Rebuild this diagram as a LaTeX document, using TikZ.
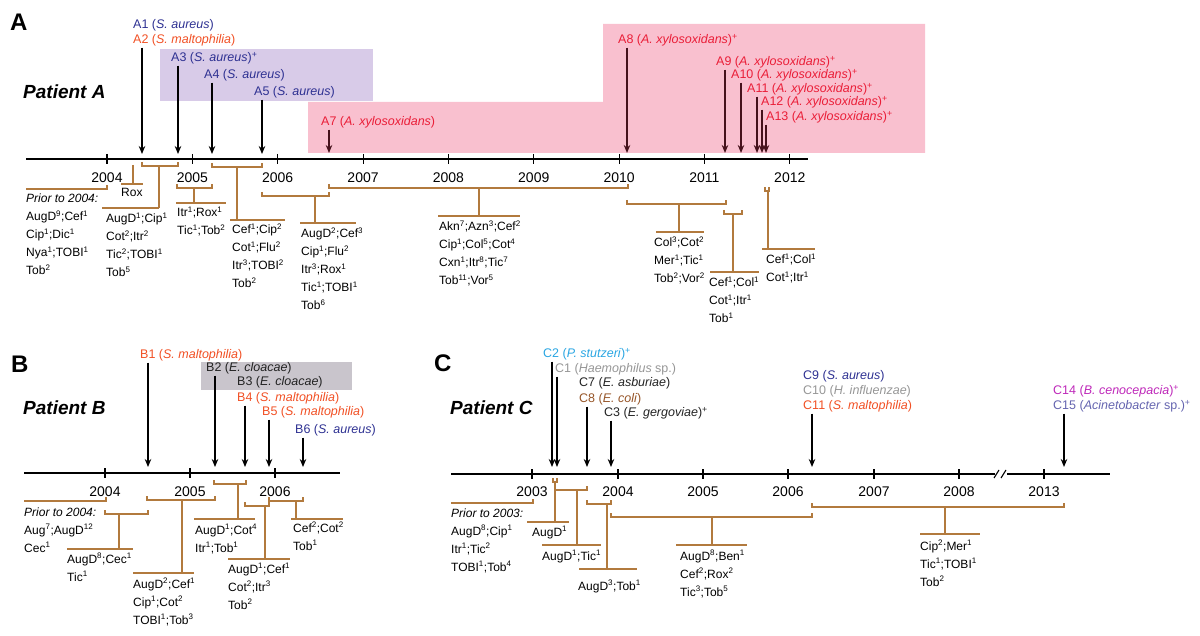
\documentclass[tikz,border=0pt]{standalone}
\usepackage{fontspec}
\setmainfont{Liberation Sans}
\usetikzlibrary{arrows.meta}

\definecolor{trtbrown}{RGB}{178,122,62}
\definecolor{isoblue}{RGB}{46,49,146}
\definecolor{isoorange}{RGB}{241,80,36}
\definecolor{isored}{RGB}{234,30,56}
\definecolor{isodark}{RGB}{35,35,35}
\definecolor{isogray}{RGB}{150,150,150}
\definecolor{isosky}{RGB}{41,165,226}
\definecolor{isobrown}{RGB}{150,85,40}
\definecolor{isomagenta}{RGB}{190,40,185}
\definecolor{isoviolet}{RGB}{100,100,175}
\definecolor{arrowdark}{RGB}{70,18,28}
\definecolor{boxpurple}{RGB}{216,203,232}
\definecolor{boxpink}{RGB}{249,192,207}
\definecolor{boxgray}{RGB}{201,197,204}

\newcommand{\sups}[1]{\textsuperscript{#1}}
\newcommand{\druglist}[1]{\begin{tabular}[t]{@{}l@{}}#1\end{tabular}}

\tikzset{
  axis/.style={line width=1.5pt},
  yeartick/.style={line width=1.1pt},
  iso/.style={->, line width=1.5pt},
  trt/.style={draw=trtbrown, line width=2pt},
  isolabel/.style={anchor=west, inner sep=0pt, font=\fontsize{12.5}{14}\selectfont},
  drugs/.style={anchor=base west, inner sep=0pt, font=\fontsize{12}{18}\selectfont},
  year/.style={inner sep=0pt, font=\fontsize{14}{16}\selectfont},
  patient/.style={anchor=west, inner sep=0pt, font=\fontsize{19}{22}\selectfont\bfseries\itshape},
  panel/.style={anchor=west, inner sep=0pt, font=\fontsize{24}{28}\selectfont\bfseries}
}

\begin{document}
\begin{tikzpicture}[x=1pt, y=-1pt, >={Stealth[length=8pt,width=6.5pt]}]
\useasboundingbox (0,0) rectangle (1200,636);

% ---------------- Patient A ----------------
\fill [boxpurple] (160,49) rectangle (373,101);
\fill [boxpink] (308,102) -- (603,102) -- (603,24) -- (925,24) -- (925,153) -- (308,153) -- cycle;

\node [panel] (panA) at (10,22) {A};
\node [patient] (patA) at (23,92) {Patient A};

\draw [axis] (26,159) -- (808,159);
\foreach \yr [count=\i from 0] in {2004,...,2012}
  {
    \draw [yeartick] ({107+85.35*\i},154) -- ({107+85.35*\i},164);
    \node [year] (yA\yr) at ({107+85.35*\i},178) {\yr};
  }

\node [isolabel, text=isoblue] (A1) at (133,25) {A1 (\textit{S. aureus})};
\node [isolabel, text=isoorange] (A2) at (133,40) {A2 (\textit{S. maltophilia})};
\node [isolabel, text=isoblue] (A3) at (171,58) {A3 (\textit{S. aureus})\sups{+}};
\node [isolabel, text=isoblue] (A4) at (204,75) {A4 (\textit{S. aureus})};
\node [isolabel, text=isoblue] (A5) at (254,92) {A5 (\textit{S. aureus})};
\node [isolabel, text=isored] (A7) at (321,122) {A7 (\textit{A. xylosoxidans})};
\node [isolabel, text=isored] (A8) at (618,40) {A8 (\textit{A. xylosoxidans})\sups{+}};
\node [isolabel, text=isored] (A9) at (716,62) {A9 (\textit{A. xylosoxidans})\sups{+}};
\node [isolabel, text=isored] (A10) at (731,75) {A10 (\textit{A. xylosoxidans})\sups{+}};
\node [isolabel, text=isored] (A11) at (747,89) {A11 (\textit{A. xylosoxidans})\sups{+}};
\node [isolabel, text=isored] (A12) at (761,102) {A12 (\textit{A. xylosoxidans})\sups{+}};
\node [isolabel, text=isored] (A13) at (766,117) {A13 (\textit{A. xylosoxidans})\sups{+}};

\coordinate (tA1) at (142,154);
\coordinate (tA3) at (178,154);
\coordinate (tA4) at (212,154);
\coordinate (tA5) at (262,154);
\coordinate (tA7) at (329,153);
\coordinate (tA8) at (627,153);
\coordinate (tA9) at (725,153);
\coordinate (tA10) at (741,153);
\coordinate (tA11) at (757,153);
\coordinate (tA12) at (762,153);
\coordinate (tA13) at (766,153);
\draw [iso] ([yshift=-1.5pt]A2.south -| tA1) -- (tA1);
\draw [iso] ([yshift=-1.5pt]A3.south -| tA3) -- (tA3);
\draw [iso] ([yshift=-1.5pt]A4.south -| tA4) -- (tA4);
\draw [iso] ([yshift=-1.5pt]A5.south -| tA5) -- (tA5);
\draw [iso, arrowdark] ([yshift=-1.5pt]A7.south -| tA7) -- (tA7);
\draw [iso, arrowdark] ([yshift=-1.5pt]A8.south -| tA8) -- (tA8);
\draw [iso, arrowdark] ([yshift=-1.5pt]A9.south -| tA9) -- (tA9);
\draw [iso, arrowdark] ([yshift=-1.5pt]A10.south -| tA10) -- (tA10);
\draw [iso, arrowdark] ([yshift=-1.5pt]A11.south -| tA11) -- (tA11);
\draw [iso, arrowdark] ([yshift=-1.5pt]A12.south -| tA12) -- (tA12);
\draw [iso, arrowdark] ([yshift=-1.5pt]A13.south -| tA13) -- (tA13);

% treatment periods A
\draw [trt] (26,189) -- (107,189) -- (107,185);
\draw [trt] (133,165) -- (133,184) (121,184) -- (143,184);
\draw [trt] (142,162) |- (178,166) -- (178,162) (159,166) -- (159,208) (102,208) -- (159,208);
\draw [trt] (177,184) |- (212,188) -- (212,184) (194,188) -- (194,203) (176,203) -- (226,203);
\draw [trt] (212,163) |- (262,167) -- (262,163) (237,167) -- (237,220) (230,220) -- (285,220);
\draw [trt] (262,192) |- (329,196) -- (329,192) (315,196) -- (315,223) (300,223) -- (356,223);
\draw [trt] (329,184) |- (628,188) -- (628,184) (479,188) -- (479,216) (438,216) -- (520,216);
\draw [trt] (627,200) |- (726,204) -- (726,200) (679,204) -- (679,232) (656,232) -- (704,232);
\draw [trt] (724,210) |- (742,214) -- (742,210) (733,214) -- (733,272) (710,272) -- (759,272);
\draw [trt] (765,187) |- (769,191) -- (769,187) (768,191) -- (768,249) (762,249) -- (815,249);

\node [drugs] (rxA1) at (26,203) {\druglist{\textit{Prior to 2004:}\\ AugD\sups{9};Cef\sups{1}\\ Cip\sups{1};Dic\sups{1}\\ Nya\sups{1};TOBI\sups{1}\\ Tob\sups{2}}};
\node [drugs] (rxA2) at (121,197) {Rox};
\node [drugs] (rxA3) at (106,223) {\druglist{AugD\sups{1};Cip\sups{1}\\ Cot\sups{2};Itr\sups{2}\\ Tic\sups{2};TOBI\sups{1}\\ Tob\sups{5}}};
\node [drugs] (rxA4) at (177,217) {\druglist{Itr\sups{1};Rox\sups{1}\\ Tic\sups{1};Tob\sups{2}}};
\node [drugs] (rxA5) at (232,234) {\druglist{Cef\sups{1};Cip\sups{2}\\ Cot\sups{1};Flu\sups{2}\\ Itr\sups{3};TOBI\sups{2}\\ Tob\sups{2}}};
\node [drugs] (rxA6) at (301,238) {\druglist{AugD\sups{2};Cef\sups{3}\\ Cip\sups{1};Flu\sups{2}\\ Itr\sups{3};Rox\sups{1}\\ Tic\sups{1};TOBI\sups{1}\\ Tob\sups{6}}};
\node [drugs] (rxA7) at (439,231) {\druglist{Akn\sups{7};Azn\sups{3};Cef\sups{2}\\ Cip\sups{1};Col\sups{5};Cot\sups{4}\\ Cxn\sups{1};Itr\sups{8};Tic\sups{7}\\ Tob\sups{11};Vor\sups{5}}};
\node [drugs] (rxA8) at (654,247) {\druglist{Col\sups{3};Cot\sups{2}\\ Mer\sups{1};Tic\sups{1}\\ Tob\sups{2};Vor\sups{2}}};
\node [drugs] (rxA9) at (709,287) {\druglist{Cef\sups{1};Col\sups{1}\\ Cot\sups{1};Itr\sups{1}\\ Tob\sups{1}}};
\node [drugs] (rxA10) at (766,264) {\druglist{Cef\sups{1};Col\sups{1}\\ Cot\sups{1};Itr\sups{1}}};

% ---------------- Patient B ----------------
\fill [boxgray] (201,362) rectangle (352,390);

\node [panel] (panB) at (11,364) {B};
\node [patient] (patB) at (23,408) {Patient B};

\draw [axis] (24,473) -- (340,473);
\foreach \xp/\yr in {105/2004, 190/2005, 275/2006}
  {
    \draw [yeartick] (\xp,468) -- (\xp,478);
    \node [year] (yB\yr) at (\xp,492) {\yr};
  }

\node [isolabel, text=isoorange] (B1) at (140,355) {B1 (\textit{S. maltophilia})};
\node [isolabel, text=isodark] (B2) at (206,368) {B2 (\textit{E. cloacae})};
\node [isolabel, text=isodark] (B3) at (237,382) {B3 (\textit{E. cloacae})};
\node [isolabel, text=isoorange] (B4) at (237,398) {B4 (\textit{S. maltophilia})};
\node [isolabel, text=isoorange] (B5) at (262,412) {B5 (\textit{S. maltophilia})};
\node [isolabel, text=isoblue] (B6) at (295,430) {B6 (\textit{S. aureus})};

\coordinate (tB1) at (148,467);
\coordinate (tB2) at (215,467);
\coordinate (tB4) at (245,467);
\coordinate (tB5) at (269,467);
\coordinate (tB6) at (303,467);
\draw [iso] ([yshift=-1.5pt]B1.south -| tB1) -- (tB1);
\draw [iso] ([yshift=-1.5pt]B2.south -| tB2) -- (tB2);
\draw [iso] ([yshift=-1.5pt]B4.south -| tB4) -- (tB4);
\draw [iso] ([yshift=-1.5pt]B5.south -| tB5) -- (tB5);
\draw [iso] ([yshift=-1.5pt]B6.south -| tB6) -- (tB6);

% treatment periods B
\draw [trt] (24,501) -- (106,501) -- (106,497);
\draw [trt] (105,510) |- (148,514) -- (148,510) (119,514) -- (119,549) (67,549) -- (133,549);
\draw [trt] (147,496) |- (215,500) -- (215,496) (182,500) -- (182,573) (133,573) -- (194,573);
\draw [trt] (214,480) |- (246,484) -- (246,480) (238,484) -- (238,519) (194,519) -- (255,519);
\draw [trt] (245,502) |- (269,506) -- (269,502) (265,506) -- (265,559) (228,559) -- (290,559);
\draw [trt] (269,497) |- (303,501) -- (303,497) (296,501) -- (296,519) (291,519) -- (343,519);

\node [drugs] (rxB1) at (24,516) {\druglist{\textit{Prior to 2004:}\\ Aug\sups{7};AugD\sups{12}\\ Cec\sups{1}}};
\node [drugs] (rxB2) at (67,563) {\druglist{AugD\sups{8};Cec\sups{1}\\ Tic\sups{1}}};
\node [drugs] (rxB3) at (133,588) {\druglist{AugD\sups{2};Cef\sups{1}\\ Cip\sups{1};Cot\sups{2}\\ TOBI\sups{1};Tob\sups{3}}};
\node [drugs] (rxB4) at (195,534) {\druglist{AugD\sups{1};Cot\sups{4}\\ Itr\sups{1};Tob\sups{1}}};
\node [drugs] (rxB5) at (228,573) {\druglist{AugD\sups{1};Cef\sups{1}\\ Cot\sups{2};Itr\sups{3}\\ Tob\sups{2}}};
\node [drugs] (rxB6) at (293,532) {\druglist{Cef\sups{2};Cot\sups{2}\\ Tob\sups{1}}};

% ---------------- Patient C ----------------
\node [panel] (panC) at (434,363) {C};
\node [patient] (patC) at (450,408) {Patient C};

\draw [axis] (451,474) -- (995,474) (1007,474) -- (1110,474);
\draw [line width=1.1pt] (994,478) -- (999,470) (1001,478) -- (1006,470);
\foreach \xp/\yr in {532/2003, 618/2004, 703/2005, 788/2006, 874/2007, 959/2008, 1044/2013}
  {
    \draw [yeartick] (\xp,469) -- (\xp,479);
    \node [year] (yC\yr) at (\xp,492) {\yr};
  }

\node [isolabel, text=isosky] (C2) at (543,354) {C2 (\textit{P. stutzeri})\sups{+}};
\node [isolabel, text=isogray] (C1) at (555,369) {C1 (\textit{Haemophilus} sp.)};
\node [isolabel, text=isodark] (C7) at (579,383) {C7 (\textit{E. asburiae})};
\node [isolabel, text=isobrown] (C8) at (579,399) {C8 (\textit{E. coli})};
\node [isolabel, text=isodark] (C3) at (604,413) {C3 (\textit{E. gergoviae})\sups{+}};
\node [isolabel, text=isoblue] (C9) at (803,376) {C9 (\textit{S. aureus})};
\node [isolabel, text=isogray] (C10) at (803,391) {C10 (\textit{H. influenzae})};
\node [isolabel, text=isoorange] (C11) at (803,406) {C11 (\textit{S. maltophilia})};
\node [isolabel, text=isomagenta] (C14) at (1053,391) {C14 (\textit{B. cenocepacia})\sups{+}};
\node [isolabel, text=isoviolet] (C15) at (1053,406) {C15 (\textit{Acinetobacter} sp.)\sups{+}};

\coordinate (tC2) at (552,467);
\coordinate (tC1) at (557,467);
\coordinate (tC8) at (587,467);
\coordinate (tC3) at (611,467);
\coordinate (tC11) at (812,467);
\coordinate (tC15) at (1064,467);
\draw [iso] ([yshift=-1.5pt]C2.south -| tC2) -- (tC2);
\draw [iso] ([yshift=-1.5pt]C1.south -| tC1) -- (tC1);
\draw [iso] ([yshift=-1.5pt]C8.south -| tC8) -- (tC8);
\draw [iso] ([yshift=-1.5pt]C3.south -| tC3) -- (tC3);
\draw [iso] ([yshift=-1.5pt]C11.south -| tC11) -- (tC11);
\draw [iso] ([yshift=-1.5pt]C15.south -| tC15) -- (tC15);

% treatment periods C
\draw [trt] (451,503) -- (533,503) -- (533,499);
\draw [trt] (553,478) |- (557,482) -- (557,478) (555,482) -- (555,522) (527,522) -- (569,522);
\draw [trt] (555,486) |- (587,490) -- (587,486) (577,490) -- (577,545) (542,545) -- (601,545);
\draw [trt] (587,500) |- (611,504) -- (611,500) (607,504) -- (607,569) (579,569) -- (637,569);
\draw [trt] (611,513) |- (812,517) -- (812,513) (712,517) -- (712,545) (676,545) -- (747,545);
\draw [trt] (812,503) |- (1064,507) -- (1064,503) (945,507) -- (945,534) (920,534) -- (980,534);

\node [drugs] (rxC1) at (451,517) {\druglist{\textit{Prior to 2003:}\\ AugD\sups{8};Cip\sups{1}\\ Itr\sups{1};Tic\sups{2}\\ TOBI\sups{1};Tob\sups{4}}};
\node [drugs] (rxC2) at (532,536) {AugD\sups{1}};
\node [drugs] (rxC3) at (542,560) {AugD\sups{1};Tic\sups{1}};
\node [drugs] (rxC4) at (578,590) {AugD\sups{3};Tob\sups{1}};
\node [drugs] (rxC5) at (680,560) {\druglist{AugD\sups{8};Ben\sups{1}\\ Cef\sups{2};Rox\sups{2}\\ Tic\sups{3};Tob\sups{5}}};
\node [drugs] (rxC6) at (920,550) {\druglist{Cip\sups{2};Mer\sups{1}\\ Tic\sups{1};TOBI\sups{1}\\ Tob\sups{2}}};
\end{tikzpicture}
\end{document}
